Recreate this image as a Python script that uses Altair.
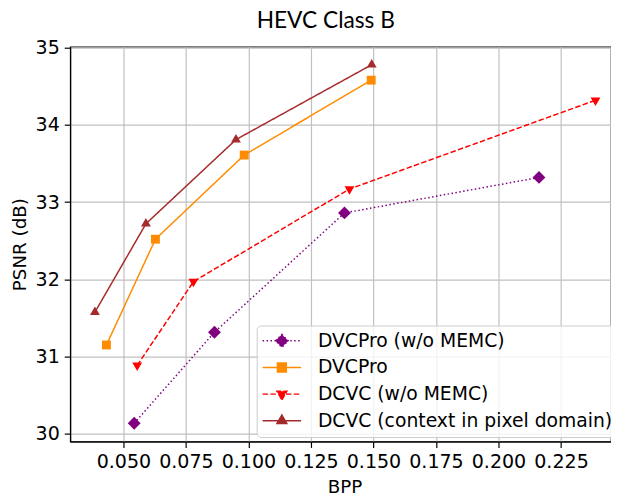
import altair as alt
import pandas as pd

title_text = "HEVC Class B"
series = ["DVCPro (w/o MEMC)", "DVCPro", "DCVC (w/o MEMC)", "DCVC (context in pixel domain)"]
colors = ["#800080", "#ff8c00", "#ff0000", "#a52a2a"]

bpp_dvcpro_womemc = [0.0543, 0.0864, 0.1384, 0.2162]
psnr_dvcpro_womemc = [30.136, 31.315, 32.86, 33.32]
bpp_dvcpro = [0.0432, 0.0628, 0.0983, 0.1491]
psnr_dvcpro = [31.15, 32.52, 33.61, 34.58]
bpp_dcvc_womemc = [0.0555, 0.0780, 0.1404, 0.2388]
psnr_dcvc_womemc = [30.886, 31.97, 33.17, 34.32]
bpp_dcvc_pixel = [0.0386, 0.0590, 0.0950, 0.1493]
psnr_dcvc_pixel = [31.575, 32.72, 33.81, 34.78]

x_ticks = [0.050, 0.075, 0.100, 0.125, 0.150, 0.175, 0.200, 0.225]
y_ticks = [30, 31, 32, 33, 34, 35]

bpp_all = [bpp_dvcpro_womemc, bpp_dvcpro, bpp_dcvc_womemc, bpp_dcvc_pixel]
psnr_all = [psnr_dvcpro_womemc, psnr_dvcpro, psnr_dcvc_womemc, psnr_dcvc_pixel]

rows = []
for s, xs, ys in zip(series, bpp_all, psnr_all):
    for xv, yv in zip(xs, ys):
        rows.append({"series": s, "bpp": xv, "psnr": yv})
df = pd.DataFrame(rows)

dashes = [[1.5, 2.5], [1, 0], [5.5, 2.4], [1, 0]]

marker_paths = [
    "M0,-1L1,0L0,1L-1,0Z",
    "M-1,-1H1V1H-1Z",
    "M0,1L0.866,-0.5L-0.866,-0.5Z",
    "M0,-1L0.866,0.5L-0.866,0.5Z",
]
marker_sizes = [169, 81, 133, 133]

legend_paths = [
    "M0,0H6M3,-1L4,0L3,1L2,0Z",
    "M0,0H6M2.31,-0.69H3.69V0.69H2.31Z",
    "M0,0H6M3,0.89L3.77,-0.44L2.23,-0.44Z",
    "M0,0H6M3,-0.89L3.77,0.44L2.23,0.44Z",
]

FONT = "DejaVu Sans"
FS = 19.3
LFS = 19.0

legend_def = alt.Legend(
    title=None, orient="none", legendX=189, legendY=282.5,
    symbolSize=169, symbolStrokeWidth=1.5, symbolOffset=-9.5, labelOffset=46.5,
    labelFont=FONT, labelFontSize=LFS, labelColor="black", labelLimit=500,
    padding=6, rowPadding=7, strokeColor="#cccccc",
    fillColor="rgba(255,255,255,0.8)", cornerRadius=4,
)

color_scale = alt.Scale(domain=series, range=colors)

x_enc = alt.X(
    "bpp:Q",
    scale=alt.Scale(domain=[0.0287, 0.2450], nice=False, zero=False),
    axis=alt.Axis(
        values=x_ticks, format=".3f", title="BPP",
        titleX=278, titleY=51.5, titleBaseline="alphabetic", titleAlign="center",
    ),
)
y_enc = alt.Y(
    "psnr:Q",
    scale=alt.Scale(domain=[29.90, 35.013], nice=False, zero=False),
    axis=alt.Axis(
        values=y_ticks, format="d", title="PSNR (dB)",
        titleX=-45, titleY=200, titleAngle=270, titleBaseline="alphabetic",
        titleAlign="center",
    ),
)

legend_layer = (
    alt.Chart(df)
    .transform_filter("datum.bpp < 0")
    .mark_point(filled=True, opacity=1)
    .encode(
        x=x_enc, y=y_enc,
        color=alt.Color("series:N", scale=color_scale, legend=legend_def),
        shape=alt.Shape("series:N", scale=alt.Scale(domain=series, range=legend_paths), legend=legend_def),
    )
)

line_layer = (
    alt.Chart(df)
    .mark_line(strokeWidth=1.5)
    .encode(
        x=x_enc, y=y_enc,
        color=alt.Color("series:N", scale=color_scale, legend=legend_def),
        strokeDash=alt.StrokeDash("series:N", scale=alt.Scale(domain=series, range=dashes), legend=legend_def),
    )
)

point_layers = []
for s, c, p, sz in zip(series, colors, marker_paths, marker_sizes):
    point_layers.append(
        alt.Chart(df)
        .transform_filter(alt.datum.series == s)
        .mark_point(filled=True, opacity=1, shape=p, size=sz, color=c)
        .encode(x=x_enc, y=y_enc)
    )

title_layer = (
    alt.Chart(pd.DataFrame({"t": [title_text]}))
    .mark_text(font="Lato", fontSize=23, color="black", align="center", baseline="alphabetic")
    .encode(text="t:N", x=alt.value(259), y=alt.value(-18.8))
)

chart = (
    alt.layer(legend_layer, line_layer, *point_layers, title_layer)
    .properties(
        width=548, height=400,
        padding={"left": 63, "top": 36, "right": 0, "bottom": 53},
        autosize=alt.AutoSizeParams(type="none"),
    )
    .configure_view(stroke="black", strokeWidth=1.2)
    .configure_axis(
        labelFont=FONT, labelFontSize=FS, labelColor="black",
        titleFont=FONT, titleFontSize=18.5, titleFontWeight="normal", titleColor="black",
        tickSize=6, labelPadding=5, tickColor="black", tickWidth=1.2,
        domainColor="black", domainWidth=1.2,
        grid=True, gridColor="#c0c0c0", gridWidth=1.2,
    )
)

chart.save("out.html", embed_options={"renderer": "svg", "actions": False})
